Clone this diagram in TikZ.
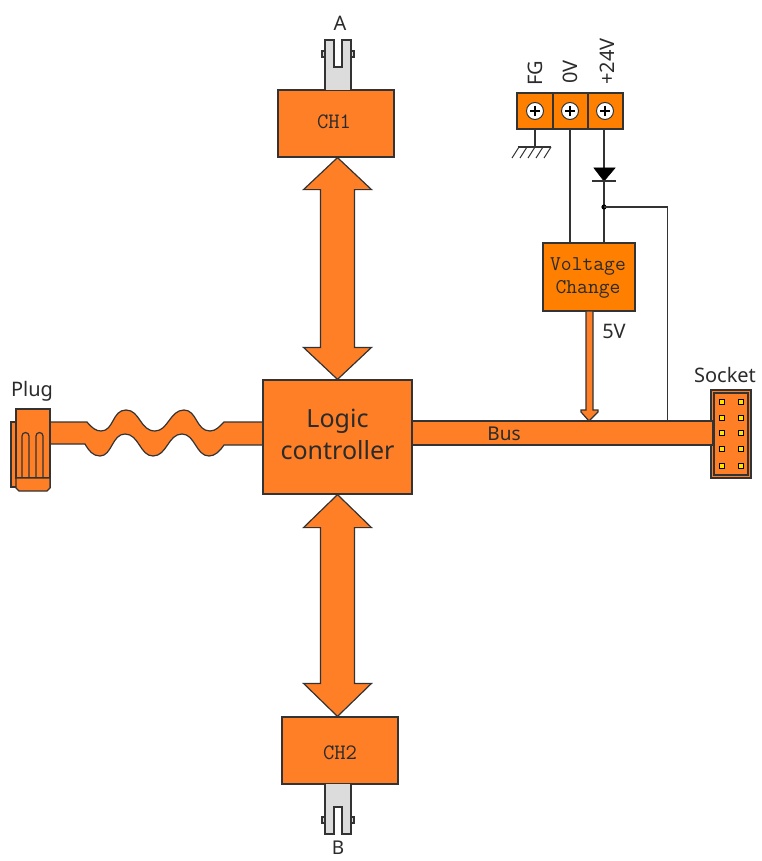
\documentclass[tikz,border=0pt]{standalone}
\usepackage{fontspec}
\setmainfont{Noto Sans}
\usetikzlibrary{calc}
\definecolor{mainor}{HTML}{FF7F27}
\definecolor{pureor}{HTML}{FF8000}
\definecolor{ink}{HTML}{333333}
\definecolor{cgrey}{HTML}{DCDCDC}
\definecolor{txt}{HTML}{2B2B2B}
\tikzset{
  part/.style={draw=ink,line width=1.2pt,fill=mainor},
  box/.style={part,inner sep=0pt,font=\ttfamily\fontsize{22}{24}\selectfont,text=txt,align=center},
  wire/.style={draw=ink,line width=1.2pt},
  conn/.style={draw=ink,line width=1.2pt,fill=cgrey},
  lbl/.style={inner sep=0pt,text=txt,font=\fontsize{20}{24}\selectfont},
  screw/.style={circle,draw=ink,line width=1pt,fill=white,minimum size=17pt,inner sep=0pt},
  term/.style={draw=ink,line width=1.2pt,fill=pureor,minimum height=36pt,inner sep=0pt},
  pin/.style={draw=black,line width=1.2pt,fill=yellow!85!orange,minimum size=5pt,inner sep=0pt}
}
\begin{document}
\begin{tikzpicture}[x=1pt,y=-1pt]
\useasboundingbox (0,0) rectangle (761,861);
% cables under the nodes
\draw[part] (50,422) -- (87,422) .. controls (92,428) and (96,431) .. (101,431)
  .. controls (114,431) and (112,410) .. (126,410)
  .. controls (140,410) and (140,431) .. (155,431)
  .. controls (168,431) and (170,410) .. (184,410)
  .. controls (197,410) and (196,431) .. (210,431)
  .. controls (216,431) and (220,426) .. (224,422) -- (263,422)
  -- (263,445) -- (224,445)
  .. controls (220,451) and (215,456) .. (209,456)
  .. controls (196,456) and (195,434) .. (182,434)
  .. controls (168,434) and (167,456) .. (153,456)
  .. controls (140,456) and (139,434) .. (125,434)
  .. controls (112,434) and (112,456) .. (100,456)
  .. controls (93,456) and (89,451) .. (85,444) -- (50,444) -- cycle;
% main nodes
\node[box,minimum width=149pt,minimum height=114pt] (logic) at (337.5,437) {};
\node[inner sep=0pt,text=txt,align=center,font=\fontsize{25}{32}\selectfont] (logictext) at (337.5,434) {Logic\\controller};
\node[box,minimum width=116pt,minimum height=67pt] (ch1) at (336,123.5) {};
\node[inner sep=0pt,text=txt,font=\ttfamily\fontsize{22}{24}\selectfont] (ch1text) at (334,122) {CH1};
\node[box,minimum width=116pt,minimum height=67pt] (ch2) at (340,750.5) {};
\node[inner sep=0pt,text=txt,font=\ttfamily\fontsize{22}{24}\selectfont] (ch2text) at (340,753) {CH2};
\node[box,fill=pureor,minimum width=92pt,minimum height=68pt] (volt) at (589,277) {};
\node[inner sep=0pt,text=txt,align=center,font=\ttfamily\fontsize{21}{23}\selectfont] (volttext) at (588,278) {Voltage\\Change};
% socket
\node[part,minimum width=40pt,minimum height=88pt,inner sep=0pt] (socket) at (731,434) {};
\node[part,minimum width=34pt,minimum height=82pt,inner sep=0pt] (socketin) at (731,434) {};
\foreach \y in {402,418,433,449,466}{
  \node[pin] at (722,\y) {};
  \node[pin] at (741,\y) {};
}
% bus
\path[fill=mainor] (logic.east |- 0,421) rectangle (713,445);
\draw[wire] (logic.east |- 0,421) -- (713,421) (logic.east |- 0,445) -- (713,445);
\draw[wire] (713,421) -- (713,445);
% double arrows
\coordinate (t1) at (logic.north |- ch1.south);
\coordinate (b1) at (logic.north);
\coordinate (t2) at (logic.south);
\coordinate (b2) at (logic.south |- ch2.north);
\draw[part] (t1) -- ++(34,32) -- ++(-17,0) -- ($(b1)+(17,-32)$) -- ++(17,0) -- (b1)
  -- ++(-34,-32) -- ++(17,0) -- ($(t1)+(-17,32)$) -- ++(-17,0) -- cycle;
\draw[part] (t2) -- ++(34,33) -- ++(-17,0) -- ($(b2)+(17,-33)$) -- ++(17,0) -- (b2)
  -- ++(-34,-33) -- ++(17,0) -- ($(t2)+(-17,33)$) -- ++(-17,0) -- cycle;
% 5V arrow
\coordinate (tip5) at (589,421);
\draw[part] (586,311) -- (593,311) -- (593,410) -- (598,410) -- (598,412) -- (tip5) -- (581,412) -- (581,410) -- (586,410) -- cycle;
% connectors A and B
\draw[conn] (322,51) rectangle (326,57) (350,51) rectangle (354,57);
\draw[conn] (325,90) -- (325,40) -- (334,40) -- (334,67) -- (342,67) -- (342,40) -- (351,40) -- (351,90);
\draw[conn] (322,817) rectangle (326,823) (350,817) rectangle (354,823);
\draw[conn] (325,784) -- (325,834) -- (334,834) -- (334,807) -- (342,807) -- (342,834) -- (351,834) -- (351,784);
% plug
\draw[part] (11,422) rectangle (50,487);
\draw[part] (16,409) rectangle (50,478);
\draw[part] (16,478) -- (50,478) -- (50,488) -- (47,491) -- (19,491) -- (16,488) -- cycle;
\draw[wire] (22,478) -- (22,436) arc[start angle=180,end angle=0,radius=3.5pt] -- (29,478);
\draw[wire] (36,478) -- (36,436) arc[start angle=180,end angle=0,radius=3.5pt] -- (43,478);
% terminal block
\node[term,minimum width=36pt] (fg) at (535,111) {};
\node[term,minimum width=35pt] (zero) at (570.5,111) {};
\node[term,minimum width=35pt] (p24) at (605.5,111) {};
\foreach \n/\x in {sfg/535,szero/570,sp24/605}{
  \node[screw] (\n) at (\x,111) {};
  \draw[line width=2pt,black] (\x-5,111) -- (\x+5,111) (\x,106) -- (\x,116);
}
% wires
\coordinate (gnd) at (535,147);
\draw[wire] (fg.south) -- (gnd);
\draw[wire] (518,147) -- (551,147);
\foreach \x in {519,527,535,543,551}{\draw[draw=ink,line width=1pt] (\x,147) -- (\x-7,158);}
\draw[wire] (570,129) -- (570,243);
\coordinate (jct) at (604,207);
\draw[wire] (604,129) -- (604,243);
\draw[fill=black,draw=black,line width=.6pt] (594,168) -- (615,168) -- (604,181) -- cycle;
\draw[wire] (592,181) -- (616,181);
\fill[black] (jct) circle (2.6pt);
\draw[wire] (jct) -- (667.5,207) -- (667.5,421);
% labels
\node[lbl] at (340,23) {A};
\node[lbl,font=\fontsize{19}{20}\selectfont] at (338,848) {B};
\node[lbl] at (32,391) {Plug};
\node[lbl] at (725,375) {Socket};
\node[lbl] at (614,331) {5V};
\node[lbl,font=\fontsize{19}{20}\selectfont] at (504,434) {Bus};
\node[lbl,rotate=90,anchor=west] at (535,86) {FG};
\node[lbl,rotate=90,anchor=west] at (570,84) {0V};
\node[lbl,rotate=90,anchor=west] at (607,85) {+24V};
\end{tikzpicture}
\end{document}
